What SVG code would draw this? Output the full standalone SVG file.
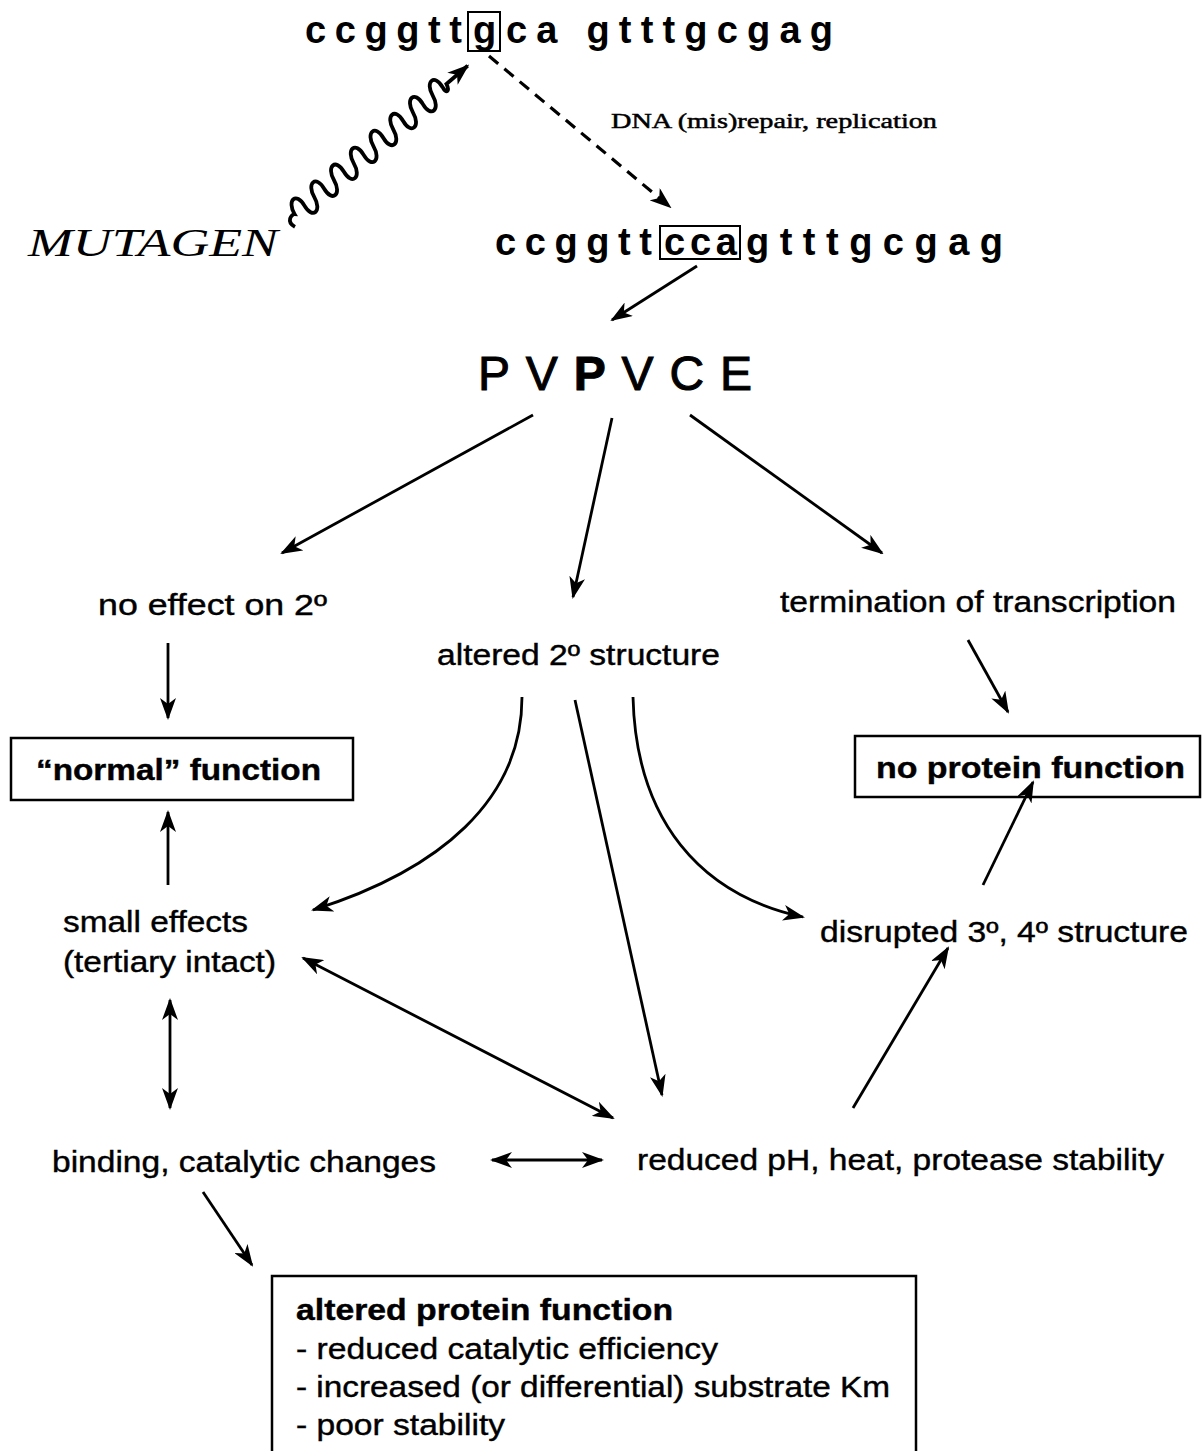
<svg xmlns="http://www.w3.org/2000/svg" width="1204" height="1451" viewBox="0 0 1204 1451">
<defs>
<marker id="ah" viewBox="0 0 22 16" markerWidth="22" markerHeight="16" refX="20" refY="8" orient="auto-start-reverse" markerUnits="userSpaceOnUse">
<path d="M0,0 L22,8 L0,16 L6,8 z" fill="#000"/>
</marker>
<style>
.t{font-family:"Liberation Sans",Arial,sans-serif;font-size:29px;fill:#000;stroke:#000;stroke-width:0.4}
.b{font-weight:bold}
.seq{font-family:"Liberation Sans",Arial,sans-serif;font-size:38px;font-weight:bold;fill:#000}
.ln{fill:none;stroke:#000;stroke-width:2.8}
.bx{fill:#fff;stroke:#000;stroke-width:2.5}
</style>
</defs>
<rect width="1204" height="1451" fill="#fff"/>

<g id="seq1">
<text class="seq" x="305" y="43" textLength="157" lengthAdjust="spacing">ccggtt</text>
<text class="seq" x="473" y="43">g</text>
<text class="seq" x="506" y="43" textLength="327" lengthAdjust="spacing">ca gtttgcgag</text>
<rect x="468" y="12" width="32" height="39" fill="none" stroke="#000" stroke-width="2"/>
</g>

<g id="mutagen">
<text x="28" y="256" font-family="'Liberation Serif','Times New Roman',serif" font-style="italic" font-size="40" textLength="250" lengthAdjust="spacingAndGlyphs" fill="#000">MUTAGEN</text>
</g>

<g id="repair-label">
<text x="611" y="128" font-family="'Liberation Serif','Times New Roman',serif" font-size="22" textLength="326" lengthAdjust="spacingAndGlyphs" fill="#000" stroke="#000" stroke-width="0.5">DNA (mis)repair, replication</text>
</g>

<g id="seq2">
<text class="seq" x="495" y="255" textLength="157" lengthAdjust="spacing">ccggtt</text>
<text class="seq" x="664" y="255" textLength="73" lengthAdjust="spacing">cca</text>
<text class="seq" x="746" y="255" textLength="257" lengthAdjust="spacing">gtttgcgag</text>
<rect x="660" y="226" width="80" height="33" fill="none" stroke="#000" stroke-width="2"/>
</g>

<g id="protein">
<text x="478" y="390" font-family="'Liberation Sans',Arial,sans-serif" font-size="48" textLength="274" lengthAdjust="spacing" stroke="#000" stroke-width="1">PV<tspan font-weight="bold">P</tspan>VCE</text>
</g>

<g id="no-effect"><text class="t" x="98" y="615" textLength="229" lengthAdjust="spacingAndGlyphs">no effect on 2º</text></g>
<g id="altered2"><text class="t" x="437" y="665" textLength="283" lengthAdjust="spacingAndGlyphs">altered 2º structure</text></g>
<g id="termination"><text class="t" x="780" y="612" textLength="396" lengthAdjust="spacingAndGlyphs">termination of transcription</text></g>

<g id="normal">
<rect class="bx" x="11" y="738" width="342" height="62"/>
<text class="t b" x="36" y="780" textLength="285" lengthAdjust="spacingAndGlyphs">“normal” function</text>
</g>
<g id="noprotein">
<rect class="bx" x="855" y="736" width="345" height="61"/>
<text class="t b" x="876" y="778" textLength="309" lengthAdjust="spacingAndGlyphs">no protein function</text>
</g>

<g id="small">
<text class="t" x="63" y="932" textLength="185" lengthAdjust="spacingAndGlyphs">small effects</text>
<text class="t" x="63" y="972" textLength="213" lengthAdjust="spacingAndGlyphs">(tertiary intact)</text>
</g>
<g id="disrupted"><text class="t" x="820" y="942" textLength="368" lengthAdjust="spacingAndGlyphs">disrupted 3º, 4º structure</text></g>
<g id="binding"><text class="t" x="52" y="1172" textLength="384" lengthAdjust="spacingAndGlyphs">binding, catalytic changes</text></g>
<g id="reduced"><text class="t" x="637" y="1170" textLength="527" lengthAdjust="spacingAndGlyphs">reduced pH, heat, protease stability</text></g>

<g id="altered-function">
<rect class="bx" x="272" y="1276" width="644" height="185"/>
<text class="t b" x="296" y="1320" textLength="377" lengthAdjust="spacingAndGlyphs">altered protein function</text>
<text class="t" x="296" y="1359" textLength="422" lengthAdjust="spacingAndGlyphs">- reduced catalytic efficiency</text>
<text class="t" x="296" y="1397" textLength="594" lengthAdjust="spacingAndGlyphs">- increased (or differential) substrate Km</text>
<text class="t" x="296" y="1435" textLength="209" lengthAdjust="spacingAndGlyphs">- poor stability</text>
</g>

<g id="connectors">
<g transform="translate(290,218) rotate(-40.6)">
<path class="ln" style="stroke-width:3.8" d="M-2,10 C-6,0 4,-2 6,0 C9,-16 22,-16 19,0 C16,16 29,16 32,0 C35,-16 48,-16 45,0 C42,16 55,16 58,0 C61,-16 74,-16 71,0 C68,16 81,16 84,0 C87,-16 100,-16 97,0 C94,16 107,16 110,0 C113,-16 126,-16 123,0 C120,16 133,16 136,0 C139,-16 152,-16 149,0 C146,16 159,16 162,0 C165,-16 178,-16 175,0 C172,16 185,16 188,0 C191,-16 204,-16 201,0 C199,8 204,8 206,0 L234,0" marker-end="url(#ah)"/>
</g>
<path class="ln" style="stroke-width:3.2" d="M489,56 L670,207" stroke-dasharray="12,8" marker-end="url(#ah)"/>
<path class="ln" d="M697,266 L612,320" marker-end="url(#ah)"/>
<path class="ln" d="M533,415 L282,553" marker-end="url(#ah)"/>
<path class="ln" d="M612,418 L573,597" marker-end="url(#ah)"/>
<path class="ln" d="M690,415 L882,553" marker-end="url(#ah)"/>
<path class="ln" d="M168,643 L168,718" marker-end="url(#ah)"/>
<path class="ln" d="M968,640 L1008,712" marker-end="url(#ah)"/>
<path class="ln" d="M168,885 L168,812" marker-end="url(#ah)"/>
<path class="ln" d="M522,697 C522,800 440,870 313,910" marker-end="url(#ah)"/>
<path class="ln" d="M575,700 L662,1095" marker-end="url(#ah)"/>
<path class="ln" d="M633,697 C636,820 700,895 803,917" marker-end="url(#ah)"/>
<path class="ln" d="M983,885 L1033,782" marker-end="url(#ah)"/>
<path class="ln" d="M853,1108 L948,948" marker-end="url(#ah)"/>
<path class="ln" d="M303,958 L613,1118" marker-start="url(#ah)" marker-end="url(#ah)"/>
<path class="ln" d="M170,1000 L170,1108" marker-start="url(#ah)" marker-end="url(#ah)"/>
<path class="ln" d="M492,1160 L602,1160" marker-start="url(#ah)" marker-end="url(#ah)"/>
<path class="ln" d="M203,1192 L252,1265" marker-end="url(#ah)"/>
</g>
</svg>
